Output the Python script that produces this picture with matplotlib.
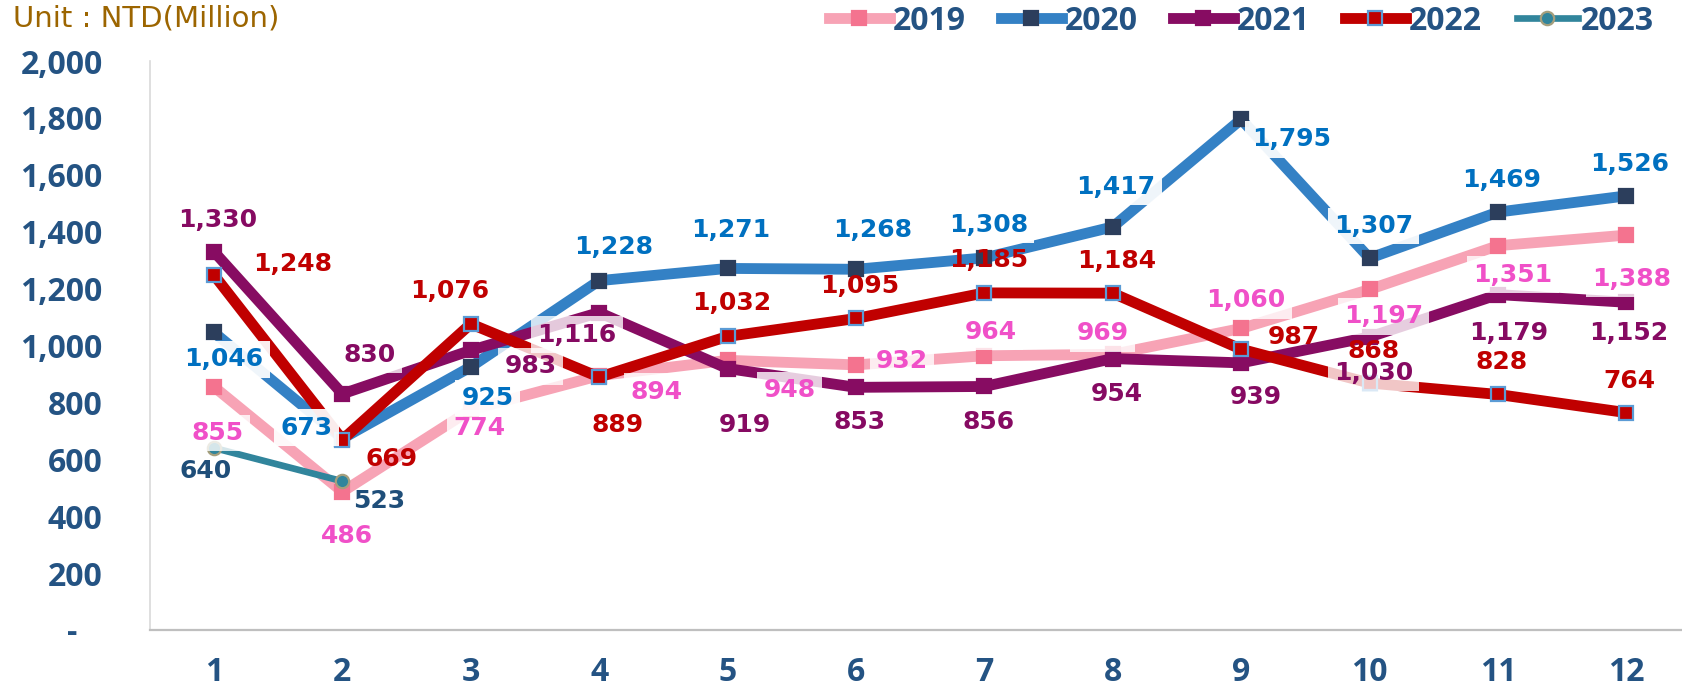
import matplotlib
matplotlib.use("Agg")
import matplotlib.pyplot as plt

months = list(range(1, 13))
month_labels = [str(m) for m in months]

v2019 = [855, 486, 774, 894, 948, 932, 964, 969, 1060, 1197, 1351, 1388]
v2020 = [1046, 673, 925, 1228, 1271, 1268, 1308, 1417, 1795, 1307, 1469, 1526]
v2021 = [1330, 830, 983, 1116, 919, 853, 856, 954, 939, 1030, 1179, 1152]
v2022 = [1248, 669, 1076, 889, 1032, 1095, 1185, 1184, 987, 868, 828, 764]
v2023 = [640, 523]

y_ticks = [0, 200, 400, 600, 800, 1000, 1200, 1400, 1600, 1800, 2000]

# label offsets in pixels (right, down) from each point
off2019 = [(4, 46), (5, 44), (9, 18), (57, 16), (62, 30), (46, -4), (6, -24), (-10, -21),
           (5, -28), (14, 27), (15, 29), (5, 44)]
off2020 = [(10, 27), (-36, -11), (17, 31), (14, -34), (3, -38), (17, -39), (4, -33), (3, -40),
           (50, 20), (4, -32), (4, -32), (3, -32)]
off2021 = [(4, -32), (27, -39), (60, 16), (-22, 22), (17, 56), (4, 35), (4, 36), (4, 35),
           (15, 34), (4, 36), (11, 38), (2, 31)]
off2022 = [(79, -11), (49, 19), (-21, -33), (18, 48), (4, -33), (4, -32), (4, -33), (4, -32),
           (53, -12), (4, -32), (4, -32), (3, -32)]
off2023 = [(-8, 23), (37, 20)]

series = [
    # name, values, offsets, line, marker face, marker edge, label color, lw, marker, box alpha
    ("2019", v2019, off2019, "#F7A3B5", "#F4738F", "#F4738F", "#F050C8", 7.8, "s", 0.8),
    ("2020", v2020, off2020, "#3481C5", "#2C3E5C", "#2C3E5C", "#0070C0", 7.8, "s", 0.93),
    ("2021", v2021, off2021, "#870C62", "#870C62", "#870C62", "#860A62", 7.8, "s", 0.78),
    ("2022", v2022, off2022, "#C00000", "#C00000", "#5B9BD5", "#C00000", 7.8, "s", None),
    ("2023", v2023, off2023, "#31859C", "#31859C", "#A59F7D", "#1F4E79", 4.8, "o", None),
]

fig = plt.figure(figsize=(16.83, 6.92), dpi=100)
ax = fig.add_axes([0.0890, 0.0896, 0.9155, 0.8222])

handles = []
for name, vals, offs, lc, mfc, mec, tc, lw, mk, balpha in series:
    x = months[:len(vals)]
    h, = ax.plot(x, vals, color=lc, lw=lw, marker=mk, markersize=9.6,
                 markerfacecolor=mfc, markeredgecolor=mec, markeredgewidth=1.6,
                 solid_joinstyle="miter", label=name)
    handles.append(h)
    for xi, v, (dx, dy) in zip(x, vals, offs):
        box = None
        if balpha is not None:
            box = dict(boxstyle="square,pad=0.25", fc="white", ec="none", alpha=balpha)
        ax.annotate(f"{v:,}", (xi, v), xytext=(dx, -dy), textcoords="offset pixels",
                    ha="center", va="center", fontsize=18, fontweight="bold",
                    family="DejaVu Sans", color=tc, bbox=box, zorder=10)

ax.set_xlim(0.5, 12.5)
ax.set_ylim(0, 2000)
ax.set_xticks(months)
ax.set_xticklabels(month_labels)
ax.set_yticks(y_ticks)
ax.set_yticklabels(["-   "] + [f"{t:,}" for t in y_ticks[1:]])
ax.tick_params(length=0, labelsize=23, labelcolor="#245383")
ax.tick_params(axis="y", pad=34)
ax.tick_params(axis="x", pad=19)
for lab in ax.get_xticklabels() + ax.get_yticklabels():
    lab.set_family("Open Sans")
    lab.set_fontweight("bold")

for s in ["top", "right"]:
    ax.spines[s].set_visible(False)
ax.spines["left"].set_color("#D9D9D9")
ax.spines["left"].set_linewidth(1.2)
ax.spines["bottom"].set_color("#BFBFBF")
ax.spines["bottom"].set_linewidth(1.6)

fig.text(13 / 1683, 1 - 19 / 692, "Unit : NTD(Million)", color="#9C6500",
         fontsize=21, family="DejaVu Sans", va="center", ha="left")

leg = fig.legend(handles=handles, loc="center", bbox_to_anchor=(1241.5 / 1683, 1 - 21 / 692),
                 ncol=5, frameon=False, handlelength=1.9, handletextpad=0.1,
                 columnspacing=1.1, prop={"family": "Open Sans", "weight": "bold", "size": 23})
for t in leg.get_texts():
    t.set_color("#245383")

fig.savefig("out.png", dpi=100)
